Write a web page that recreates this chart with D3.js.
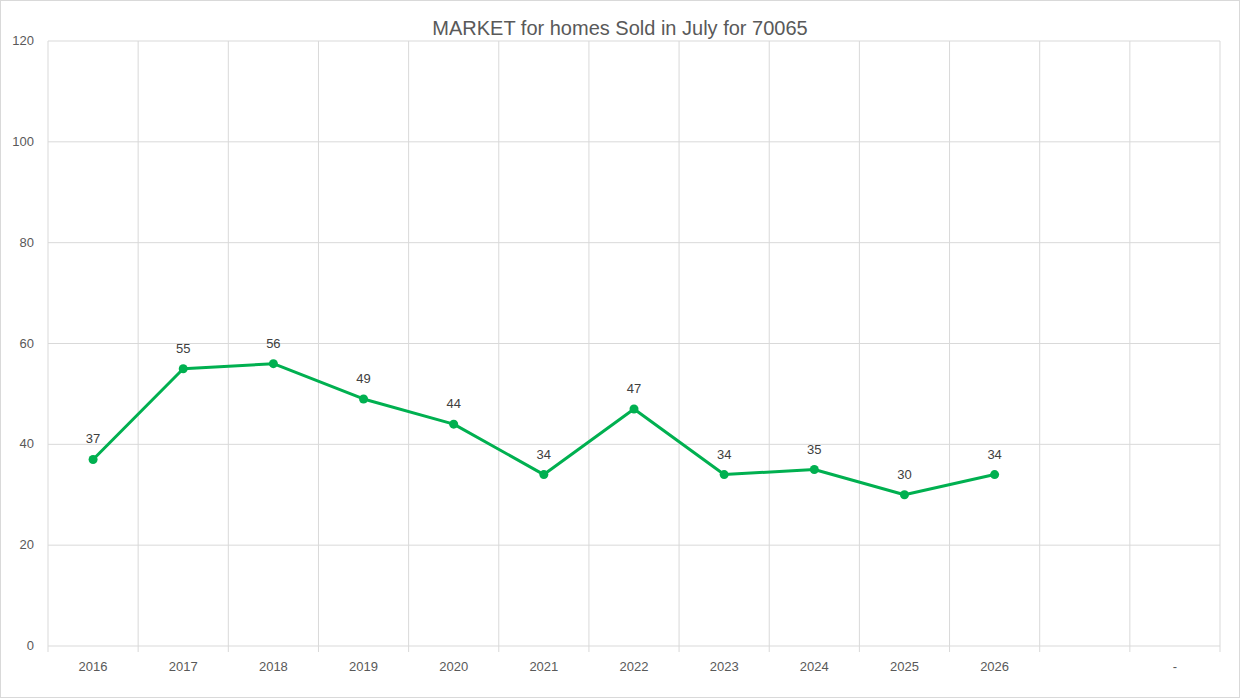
<!DOCTYPE html>
<html><head><meta charset="utf-8">
<script src="https://cdn.jsdelivr.net/npm/d3@7"></script>
<style>body{margin:0;background:#fff;font-family:"Liberation Sans",Arial,sans-serif;}</style>
</head><body><div id="canvas"></div>
<script>
// categories along the bottom (last three are blank / dash, as in the source sheet)
const categories = ["2016","2017","2018","2019","2020","2021","2022","2023","2024","2025","2026","",  "-"];
const catKeys = categories.map((c, i) => i);
const years = ["2016","2017","2018","2019","2020","2021","2022","2023","2024","2025","2026"];
const sold = [37, 55, 56, 49, 44, 34, 47, 34, 35, 30, 34];
const yTicks = [0, 20, 40, 60, 80, 100, 120];

const W = 1240, H = 698;
const margin = {left: 48, right: 20, top: 41, bottom: 52};
const width = W - margin.left - margin.right;
const height = H - margin.top - margin.bottom;

const svg = d3.select("#canvas").append("svg").attr("width", W).attr("height", H);
svg.append("rect").attr("x", 0.5).attr("y", 0.5).attr("width", W - 1).attr("height", H - 1)
  .attr("fill", "#fff").attr("stroke", "#d9d9d9");

svg.append("text").attr("x", W / 2).attr("y", 35).attr("text-anchor", "middle")
  .attr("font-size", 20).attr("fill", "#595959").text("MARKET for homes Sold in July for 70065");

const g = svg.append("g").attr("transform", "translate(" + margin.left + "," + margin.top + ")");

const x = d3.scaleBand().domain(catKeys).range([0, width]);
const y = d3.scaleLinear().domain([0, 120]).range([height, 0]);

// horizontal gridlines
g.selectAll(".hg").data(yTicks).enter().append("line")
  .attr("x1", 0).attr("x2", width).attr("y1", d => y(d)).attr("y2", d => y(d))
  .attr("stroke", "#d9d9d9");
// vertical gridlines at category boundaries
g.selectAll(".vg").data(catKeys.concat([categories.length])).enter().append("line")
  .attr("x1", d => d * x.step()).attr("x2", d => d * x.step())
  .attr("y1", 0).attr("y2", height + 6).attr("stroke", "#d9d9d9");

// y labels
g.selectAll(".yl").data(yTicks).enter().append("text")
  .attr("x", -14).attr("y", d => y(d) + 4).attr("text-anchor", "end")
  .attr("font-size", 13).attr("fill", "#595959").text(d => d);
// x labels
g.selectAll(".xl").data(catKeys).enter().append("text")
  .attr("x", d => x(d) + x.bandwidth() / 2).attr("y", height + 25).attr("text-anchor", "middle")
  .attr("font-size", 13).attr("fill", "#595959").text(d => categories[d]);

const cx = (d, i) => x(i) + x.bandwidth() / 2;
const line = d3.line().x(cx).y(d => y(d));
g.append("path").datum(sold).attr("d", line).attr("fill", "none")
  .attr("stroke", "#00b050").attr("stroke-width", 3).attr("stroke-linejoin", "round");
g.selectAll(".pt").data(sold).enter().append("circle")
  .attr("cx", cx).attr("cy", d => y(d)).attr("r", 4.5).attr("fill", "#00b050");
g.selectAll(".lb").data(sold).enter().append("text")
  .attr("x", cx).attr("y", d => y(d) - 16).attr("text-anchor", "middle")
  .attr("font-size", 13).attr("fill", "#404040").text(d => d);
</script></body></html>
